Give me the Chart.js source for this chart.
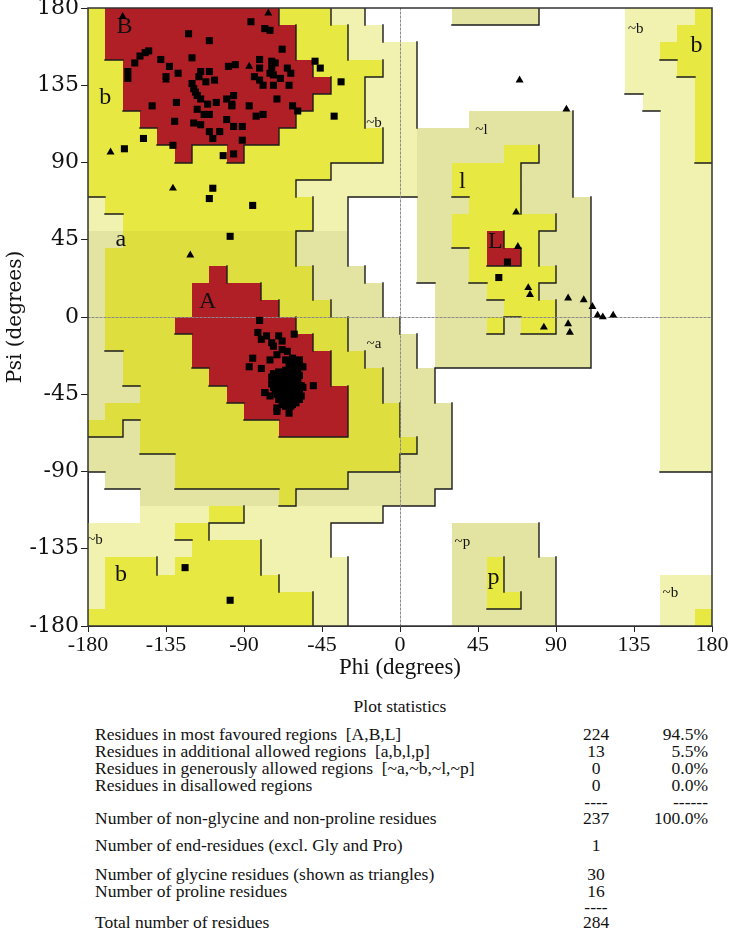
<!DOCTYPE html>
<html><head><meta charset="utf-8">
<script src="https://cdn.jsdelivr.net/npm/chart.js@4.4.0/dist/chart.umd.min.js"></script>
<style>
html,body{margin:0;padding:0;background:#fff;}
#wrap{position:relative;width:731px;height:929px;overflow:hidden;background:#fff;}
#cv{position:absolute;left:0;top:0;}
.st{position:absolute;font-family:'Liberation Serif','Times New Roman',serif;font-size:17.5px;color:#111;white-space:pre;line-height:18px;}
</style></head><body>
<div id="wrap">
<canvas id="cv" width="731" height="682" style="width:731px;height:682px"></canvas>
<div id="stats"></div>
</div>
<script>
// ---------------- DATA ----------------
// Ramachandran region map, 10-degree cells. Row 0 = psi 170..180, last row = psi -180..-170.
// Column 0 = phi -180..-170, last column = phi 170..180.
// R = most favoured, a/b = additional allowed, g/h = generously allowed, . = disallowed
const REGION_ROWS = [
 "bRRRRRRRRRRbbbhh.....ggggg.....hhhhb", // 170..180
 "bRRRRRRRRRRRbbbhh..............hhhbb", // 160..170
 "bRRRRRRRRRRRbbbhhhh............hhbbb", // 150..160
 "bbRRRRRRRRRRRbbbbhh............hhhbb", // 140..150
 "bbRRRRRRRRRRRRbbhhh............hhhhb", // 130..140
 "bbRRRRRRRRRRRbbbhhh.............hhhb", // 120..130
 "bbbRRRRRRRRRbbbbhhh...gggggg.....hhb", // 110..120
 "bbbbRRRRRRRbbbbbbhhggggggggg.....hhb", // 100..110
 "bbbbbRbbRbbbbbbbbhhgggggbbgg.....hhb", // 90..100
 "bbbbbbbbbbbbbbhhhhhggbbbbggg.....hhh", // 80..90
 "bbbbbbbbbbbbhhhhhhhggbbbbggg.....hhh", // 70..80
 "hbbbbbbbbbbbbhh....gggbbbgggg....hhh", // 60..70
 "hhbbbbbbbbbbbhh....ggbbbbbbgg....hhh", // 50..60
 "ggaaaaaaaaaaggg....ggbbRbbggg....hhh", // 40..50
 "gaaaaaaaaaaaggg....gggbRRbggg....hhh", // 30..40
 "gaaaaaaRaaaaaggg...gggbbbbbgg....hhh", // 20..30
 "gaaaaaRRRRaaagggg...gggbbbggg....hhh", // 10..20
 "gaaaaaRRRRRaaaggg...ggggbbbgg....hhh", // 0..10
 "gaaaaRRRRRRRaaaggg..gggbgbbgg....hhh", // -10..0
 "gaaaaaRRRRRRRaagggg.ggggggggg....hhh", // -20..-10
 "ggaaaaRRRRRRRRaaggg.ggggggggg....hhh", // -30..-20
 "ggaaaaaRRRRRRRaaaggg.............hhh", // -40..-30
 "gggaaaaaRRRRRRRaaggg.............hhh", // -50..-40
 "gaaaaaaaaRRRRRRaaaggg............hhh", // -60..-50
 "aagaaaaaaaaRRRRaaaggg............hhh", // -70..-60
 "gggaaaaaaaaaaaaaaaagg............hhh", // -80..-70
 "gggggaaaaaaaaaaaaaggg............hhh", // -90..-80
 ".ggggaaaaaaaaaagggggg...............", // -100..-90
 "...ggggggggagggggggg................", // -110..-100
 "...hhhhbbhhhhhhhh...................", // -120..-110
 "hhhhhbbhhhhhhh.......ggggg..........", // -130..-120
 "hhhhhhbbbbhhhh.......ggggg..........", // -140..-130
 "hbbbhbbbbbhhhhh......ggbggg.........", // -150..-140
 "hbbbbbbbbbbhhhh......ggbggg......hhh", // -160..-150
 "hbbbbbbbbbbbbhh......ggbbgg......hhh", // -170..-160
 "bbbbbbbbbbbbbhh......gggggg......hhb"  // -180..-170
];

const REGION_LABELS = [
 ["B",-159,169],["b",-170,128],["a",-161,45],["A",-111,9],["~b",-15,113],
 ["~l",47,109],["l",36,79],["L",55,44],["~a",-15,-16],["~p",36,-131],
 ["p",54,-152],["~b",-176,-130],["b",-161,-150],["~b",136,168],["b",171,158],["~b",156,-161]
];

const AXIS_TICKS = [-180,-135,-90,-45,0,45,90,135,180];

// Non-glycine residues (squares): [phi, psi]
const betaSquares = [
 [-86,172],[-78,168],[-75,167],[-122,165],[-110,161],[-68,156],[-145,155],[-147,154],[-150,152],
 [-153,148],[-138,150],[-120,151],[-133,146],[-128,142],[-157,143],[-157,139],[-135,140],[-115,143],
 [-110,143],[-116,140],[-107,138],[-112,137],[-120,136],[-119,133],[-118,131],[-117,129],[-115,127],
 [-111,124],[-106,125],[-100,127],[-97,124],[-97,123],[-96,129],[-99,146],[-95,147],[-81,150],
 [-74,149],[-72,148],[-74,145],[-81,145],[-75,142],[-73,141],[-65,145],[-63,142],[-84,140],
 [-81,138],[-79,135],[-73,135],[-69,139],[-64,135],[-71,127],[-62,123],[-59,120],[-49,149],
 [-46,145],[-87,123],[-83,117],[-79,118],[-143,123],[-129,125],[-117,121],[-113,118],[-110,118],
 [-130,114],[-119,113],[-115,112],[-100,115],[-96,111],[-91,111],[-110,108],[-104,108],[-108,104],
 [-91,103],[-131,100],[-96,95],[-102,94],[-148,104],[-159,98],[-34,137],[-38,117],
 [-108,75],[-110,69],[-85,65],[-98,47],[-124,-146],[-98,-165]
];
const alphaSquares = [
 [-81,-2],[-82,-9],[-77,-11],[-70,-11],[-61,-10],[-80,-13],[-74,-15],[-68,-14],[-68,-19],[-73,-17],
 [-85,-24],[-87,-29],[-80,-30],[-75,-25],[-71,-22],[-65,-20],[-50,-40],[-78,-44],[-75,-46],[-71,-55],
 [-64,-56],[-56,-29],[-59,-26],[-74,-35],[-78,-44],[-71,-53],
 [-66,-25],[-62,-24],[-58,-25],[-60,-27],[-64,-28],[-57,-29],[-61,-30],[-66,-31],[-63,-26],[-59,-31],
 [-73,-33],[-70,-32],[-67,-33],[-64,-32],[-61,-33],[-58,-34],[-71,-35],[-68,-36],[-65,-35],[-62,-36],
 [-59,-36],[-72,-37],[-66,-34],[-63,-34],[-60,-32],
 [-74,-39],[-71,-38],[-68,-39],[-65,-38],[-62,-39],[-59,-38],[-57,-40],[-73,-41],[-70,-41],[-67,-42],
 [-64,-41],[-61,-42],[-58,-42],[-69,-40],[-66,-40],[-63,-40],[-60,-40],[-72,-43],[-65,-43],[-62,-43],
 [-56,-41],[-67,-37],[-61,-37],
 [-71,-45],[-68,-44],[-65,-45],[-62,-45],[-59,-44],[-69,-47],[-66,-47],[-63,-47],[-60,-47],[-57,-46],
 [-67,-49],[-64,-49],[-61,-49],[-70,-48],[-58,-48],[-64,-44],[-66,-46],[-62,-46],
 [-68,-51],[-65,-51],[-62,-51],[-60,-50],[-66,-52],[-63,-52]
];
const leftHandedSquares = [[62,32],[57,23]];

// Glycine residues (triangles): [phi, psi]
const glycineTriangles = [
 [-76,177],[-87,146],[-135,138],[-167,96],[-131,75],[-121,36],[-160,175],
 [69,138],[96,121],[67,61],[68,41],[74,17],[75,13],[83,-6],[97,11],[106,10],
 [111,6],[114,1],[117,0],[123,1],[97,-4],[98,-9]
];

// Plot statistics table
const statText = [
 "Residues in most favoured regions  [A,B,L]",
 "Residues in additional allowed regions  [a,b,l,p]",
 "Residues in generously allowed regions  [~a,~b,~l,~p]",
 "Residues in disallowed regions",
 "",
 "Number of non-glycine and non-proline residues",
 "Number of end-residues (excl. Gly and Pro)",
 "Number of glycine residues (shown as triangles)",
 "Number of proline residues",
 "",
 "Total number of residues"
];
const statCounts = ["224","13","0","0","----","237","1","30","16","----","284"];
const statPercents = ["94.5%","5.5%","0.0%","0.0%","------","100.0%","","","","",""];

// ---------------- STYLE / LAYOUT ----------------
const REGION_COLORS = {R:'#B01F26', a:'#DEDF3E', b:'#E7E842', g:'#E3E4A1', h:'#F1F2AF'};
const REGION_LEVEL = {R:3, a:2, b:2, g:1, h:1, '.':0};
const statRowY = [734,751,768,785,802,818,845,874,891,907,922];

const regionPlugin = {
  id: 'regions',
  beforeDatasetsDraw(chart) {
    const {ctx, chartArea: ca, scales: {x, y}} = chart;
    const nR = REGION_ROWS.length, nC = REGION_ROWS[0].length;
    const px = v => Math.round(x.getPixelForValue(v));
    const py = v => Math.round(y.getPixelForValue(v));
    ctx.save();
    ctx.beginPath(); ctx.rect(ca.left, ca.top, ca.right - ca.left, ca.bottom - ca.top); ctx.clip();
    for (let r = 0; r < nR; r++) {
      const psiT = 180 - 10 * r, psiB = psiT - 10;
      for (let c = 0; c < nC; c++) {
        const ch = REGION_ROWS[r][c];
        if (ch === '.') continue;
        const phiL = -180 + 10 * c, phiR = phiL + 10;
        ctx.fillStyle = REGION_COLORS[ch];
        ctx.fillRect(px(phiL), py(psiT), px(phiR) - px(phiL), py(psiB) - py(psiT));
      }
    }
    // boundary lines (where level drops going right or going down)
    ctx.strokeStyle = '#1c1c1c'; ctx.lineWidth = 1.4; ctx.lineCap = 'square';
    ctx.beginPath();
    for (let r = 0; r < nR; r++) {
      for (let c = 0; c < nC; c++) {
        const L = REGION_LEVEL[REGION_ROWS[r][c]];
        if (c < nC - 1 && L > REGION_LEVEL[REGION_ROWS[r][c + 1]]) {
          const xp = px(-170 + 10 * c);
          ctx.moveTo(xp, py(180 - 10 * r)); ctx.lineTo(xp, py(170 - 10 * r));
        }
        if (r < nR - 1 && L > REGION_LEVEL[REGION_ROWS[r + 1][c]]) {
          const yp = py(170 - 10 * r);
          ctx.moveTo(px(-180 + 10 * c), yp); ctx.lineTo(px(-170 + 10 * c), yp);
        }
      }
    }
    ctx.stroke();
    // zero lines
    ctx.setLineDash([2, 2]); ctx.strokeStyle = '#8a8a8a'; ctx.lineWidth = 1;
    ctx.beginPath();
    ctx.moveTo(px(0) + 0.5, ca.top); ctx.lineTo(px(0) + 0.5, ca.bottom);
    ctx.moveTo(ca.left, py(0) + 0.5); ctx.lineTo(ca.right, py(0) + 0.5);
    ctx.stroke(); ctx.setLineDash([]);
    // region labels
    ctx.fillStyle = '#111'; ctx.textAlign = 'center'; ctx.textBaseline = 'middle';
    REGION_LABELS.forEach(([t, phi, psi]) => {
      ctx.font = t.startsWith('~') ? "15px 'Liberation Serif', serif" : "24px 'Liberation Serif', serif";
      ctx.fillText(t, x.getPixelForValue(phi), y.getPixelForValue(psi));
    });
    ctx.restore();
    // frame
    ctx.save();
    ctx.strokeStyle = '#333'; ctx.lineWidth = 1.5;
    ctx.strokeRect(ca.left, ca.top, ca.right - ca.left, ca.bottom - ca.top);
    ctx.restore();
  }
};

const toXY = arr => arr.map(([phi, psi]) => ({x: phi, y: psi}));

new Chart(document.getElementById('cv'), {
  type: 'scatter',
  data: {
    datasets: [
      {label: 'Non-glycine', data: toXY([...betaSquares, ...alphaSquares, ...leftHandedSquares]),
       pointStyle: 'rect', radius: 5, backgroundColor: '#000', borderWidth: 0},
      {label: 'Glycine', data: toXY(glycineTriangles),
       pointStyle: 'triangle', radius: 4.6, backgroundColor: '#000', borderWidth: 0}
    ]
  },
  options: {
    responsive: false, animation: false,
    layout: {padding: {top: 8, right: 19, left: 0, bottom: 0}},
    plugins: {legend: {display: false}, tooltip: {enabled: false}},
    scales: {
      x: {
        type: 'linear', min: -180, max: 180,
        afterBuildTicks(s) { s.ticks = AXIS_TICKS.map(v => ({value: v})); },
        afterFit(s) { s.height = 56; s.paddingLeft = 0; s.paddingRight = 0; },
        ticks: {color: '#111', font: {family: "'Liberation Serif', serif", size: 22}, padding: 0, maxRotation: 0, autoSkip: false},
        grid: {drawOnChartArea: false, drawTicks: true, tickLength: 6, color: '#222'},
        border: {display: true, color: '#333', width: 1},
        title: {display: true, text: 'Phi (degrees)', color: '#111', font: {family: "'Liberation Serif', serif", size: 23}, padding: {top: 0, bottom: 0}}
      },
      y: {
        type: 'linear', min: -180, max: 180,
        afterBuildTicks(s) { s.ticks = AXIS_TICKS.map(v => ({value: v})); },
        afterFit(s) { s.width = 88; s.paddingTop = 0; s.paddingBottom = 0; },
        ticks: {color: '#111', font: {family: "'DejaVu Serif', serif", size: 22}, padding: 2, autoSkip: false},
        grid: {drawOnChartArea: false, drawTicks: true, tickLength: 7, color: '#222'},
        border: {display: true, color: '#333', width: 1},
        title: {display: true, text: 'Psi (degrees)', color: '#111', font: {family: "'DejaVu Serif', serif", size: 20}, padding: {top: 4, bottom: 0}}
      }
    }
  },
  plugins: [regionPlugin]
});

// statistics as HTML text
const st = document.getElementById('stats');
function addDiv(text, css) {
  const d = document.createElement('div'); d.className = 'st'; d.textContent = text;
  Object.assign(d.style, css); st.appendChild(d);
}
addDiv('Plot statistics', {left: '300px', width: '200px', textAlign: 'center', top: (706 - 9) + 'px'});
statText.forEach((t, i) => {
  const top = (statRowY[i] - 9) + 'px';
  if (t) addDiv(t, {left: '95px', top});
  if (statCounts[i]) addDiv(statCounts[i], {left: '556px', width: '80px', textAlign: 'center', top});
  if (statPercents[i]) addDiv(statPercents[i], {left: '588px', width: '120px', textAlign: 'right', top});
});
</script>
</body></html>
